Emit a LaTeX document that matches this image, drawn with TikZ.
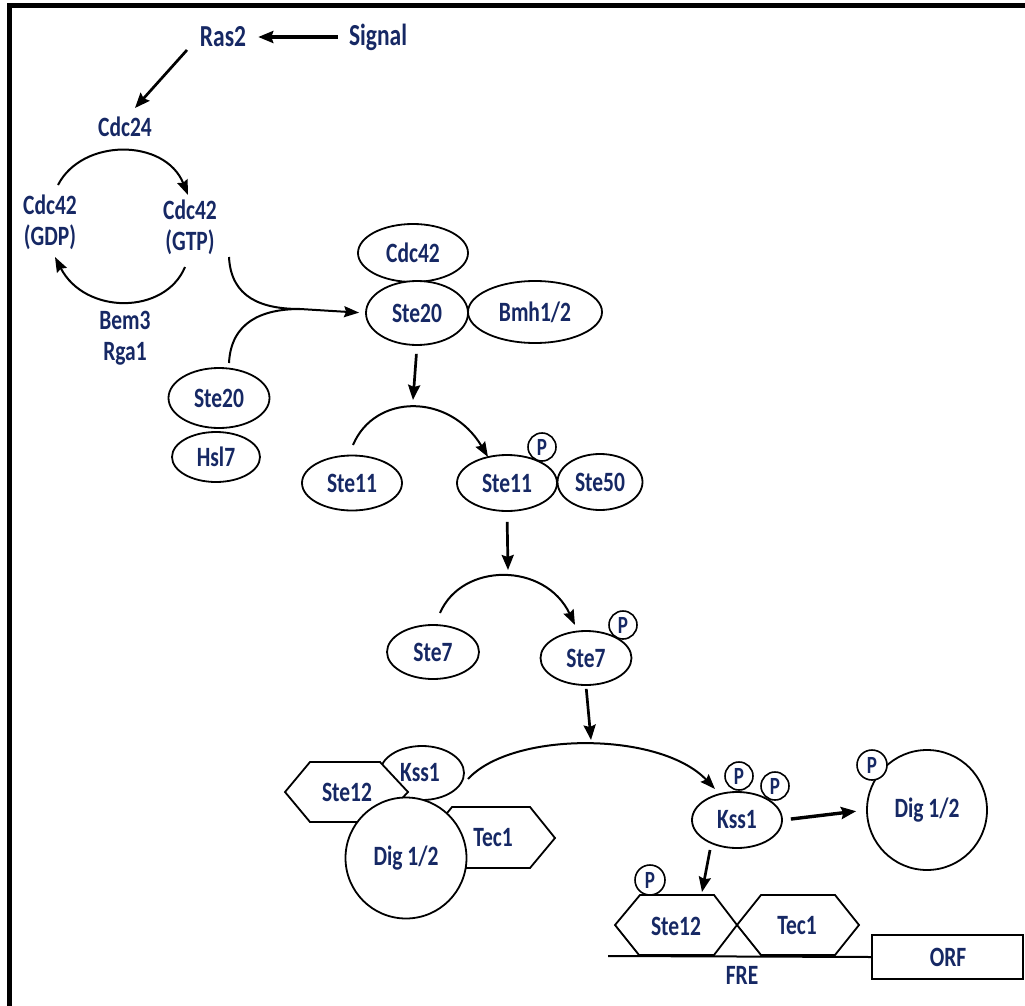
\documentclass[tikz,border=0pt]{standalone}
\usepackage{fontspec}
\usepackage{graphicx}
\setmainfont{Carlito}
\usetikzlibrary{shapes.geometric,arrows.meta}
\definecolor{navy}{RGB}{22,40,100}
\newcommand{\tx}[1]{\scalebox{1}[1.3]{#1}}
\begin{document}
\begin{tikzpicture}[x=1pt,y=-1pt,
  lbl/.style={font=\bfseries\fontsize{21.5}{31}\selectfont,text=navy,inner sep=0pt,align=center},
  big/.style={lbl,font=\bfseries\fontsize{23.5}{26}\selectfont},
  prot/.style={lbl,draw=black,ellipse,line width=1.8pt,fill=white},
  ball/.style={lbl,draw=black,circle,line width=1.8pt,fill=white},
  phos/.style={lbl,font=\bfseries\fontsize{19}{20}\selectfont,draw=black,circle,line width=1.6pt,fill=white,minimum size=28pt},
  arr/.style={line width=2.7pt,-{Stealth[length=15pt,width=12pt,inset=2pt]}},
  carr/.style={line width=2pt,-{Stealth[length=15pt,width=11pt,inset=2pt]}},
  curve/.style={line width=2pt},
  hexa/.style={draw=black,line width=1.8pt,line join=miter}]
\useasboundingbox (0,0) rectangle (1025,1006);
% frame
\draw[line width=5pt,line join=miter] (9.5,1010) -- (9.5,5.5) -- (1030,5.5);

% top labels
\node[big] (ras2) at (223,37) {\tx{Ras2}};
\node[big] (signal) at (378,37) {\tx{Signal}};
\node[lbl] (cdc24) at (125,127) {\tx{Cdc24}};
\node[lbl] (gdp) at (50,222) {\tx{Cdc42}\\\tx{(GDP)}};
\node[lbl] (gtp) at (190,227) {\tx{Cdc42}\\\tx{(GTP)}};
\node[lbl] (bem) at (125,338) {\tx{Bem3}\\\tx{Rga1}};

\draw[arr,line width=3.2pt,shorten <=11pt,shorten >=12pt] (signal) -- (ras2);
\coordinate (r2a) at (187,50);
\coordinate (r2b) at (135,108);
\draw[arr] (r2a) -- (r2b);

% GDP/GTP cycle
\coordinate (cy1) at (58,185);
\coordinate (cy2) at (188,195);
\draw[carr] (cy1) .. controls (82,138) and (165,138) .. (cy2);
\coordinate (cy3) at (185,267);
\coordinate (cy4) at (55,257);
\draw[carr] (cy3) .. controls (165,315) and (85,315) .. (cy4);

% upper complex
\node[prot,minimum width=110pt,minimum height=58pt] (cdc42c) at (413,253) {\tx{Cdc42}};
\node[prot,minimum width=102pt,minimum height=64pt] (ste20c) at (417,313) {\tx{Ste20}};
\node[prot,minimum width=134pt,minimum height=62pt] (bmh) at (535,312) {\tx{Bmh1/2}};

\node[prot,minimum width=101pt,minimum height=60pt] (ste20l) at (219,398) {\tx{Ste20}};
\node[prot,minimum width=88pt,minimum height=50pt] (hsl7) at (216,457) {\tx{Hsl7}};

% merging arrows
\coordinate (mg) at (300,309);
\coordinate (g1) at (229,257);
\coordinate (s1) at (229,363);
\draw[curve] (g1) .. controls (231,298) and (262,309) .. (mg);
\draw[curve] (s1) .. controls (231,322) and (262,309) .. (mg);
\draw[carr,shorten >=6pt] (mg) -- (ste20c.west);

% Ste20 -> Ste11
\coordinate (k1) at (413,400);
\draw[arr,shorten <=8pt] (ste20c.south) -- (k1);

\node[prot,minimum width=100pt,minimum height=55pt] (ste11a) at (352,483) {\tx{Ste11}};
\node[prot,minimum width=100pt,minimum height=56pt] (ste11b) at (507,483) {\tx{Ste11}};
\node[prot,minimum width=85pt,minimum height=56pt] (ste50) at (600,482) {\tx{Ste50}};
\node[phos] (p1) at (542,447) {\tx{P}};
\coordinate (e11a) at (353,445);
\coordinate (e11b) at (488,457);
\draw[carr] (e11a) .. controls (375,393) and (450,393) .. (e11b);

% Ste11 -> Ste7
\coordinate (k2) at (508,570);
\draw[arr,shorten <=10pt] (ste11b.south) -- (k2);

\node[prot,minimum width=92pt,minimum height=54pt] (ste7a) at (433,652) {\tx{Ste7}};
\node[prot,minimum width=91pt,minimum height=54pt] (ste7b) at (586,658) {\tx{Ste7}};
\node[phos] (p2) at (623,625) {\tx{P}};
\coordinate (e7a) at (440,613);
\coordinate (e7b) at (575,625);
\draw[carr] (e7a) .. controls (462,562) and (545,562) .. (e7b);

% Ste7 -> Kss1
\coordinate (k3) at (591,740);
\draw[arr,shorten <=3pt] (ste7b.south) -- (k3);

% lower-left complex
\node[prot,minimum width=84pt,minimum height=54pt] (kss1l) at (422,773) {};
\draw[hexa,fill=white] (285,792) -- (310,762) -- (380,762) -- (408,792) -- (380,822) -- (310,822) -- cycle;
\node[lbl] (ste12lt) at (347,792) {\tx{Ste12}};
\node[lbl] (kss1lt) at (420,773) {\tx{Kss1}};
\draw[hexa,fill=white] (427,838) -- (452,807) -- (530,807) -- (555,838) -- (530,868) -- (452,868) -- cycle;
\node[lbl] (tec1lt) at (493,838) {\tx{Tec1}};
\node[ball,minimum size=121pt] (digl) at (406,858) {\tx{Dig 1/2}};

% Kss1 activation
\coordinate (e9a) at (468,779);
\coordinate (e9b) at (715,789);
\draw[carr] (e9a) .. controls (512,731) and (660,731) .. (e9b);

\node[prot,minimum width=90pt,minimum height=56pt] (kss1r) at (737,820) {\tx{Kss1}};
\node[phos] (pk1) at (739,776) {\tx{P}};
\node[phos] (pk2) at (775,786) {\tx{P}};

\node[ball,minimum size=120pt] (digr) at (927,810) {\tx{Dig 1/2}};
\node[phos,minimum size=30pt] (pd) at (872,765) {\tx{P}};
\draw[arr,line width=3.4pt,shorten <=8pt,shorten >=10pt] (kss1r.east) -- (digr.west);

% promoter
\coordinate (b0) at (608,956);
\node[draw=black,line width=1.8pt,minimum width=151pt,minimum height=44pt,inner sep=0pt] (orf) at (947.5,957) {};
\node[lbl] (orft) at (948,957) {\tx{ORF}};
\draw[line width=2pt] (b0) -- (orf.west);
\draw[hexa] (615,925) -- (640,895) -- (714,895) -- (737,925) -- (714,955) -- (639,955) -- cycle;
\draw[hexa] (737,925) -- (761,895) -- (835,895) -- (859,925) -- (835,955) -- (761,955) -- cycle;
\node[lbl] (ste12r) at (676,926) {\tx{Ste12}};
\node[lbl] (tec1r) at (797,926) {\tx{Tec1}};
\node[phos,minimum size=30pt] (ps) at (650,880) {\tx{P}};
\node[lbl] (fre) at (742,975) {\tx{FRE}};

\coordinate (k4s) at (710,850);
\coordinate (k4) at (702,892);
\draw[arr] (k4s) -- (k4);
\end{tikzpicture}
\end{document}
